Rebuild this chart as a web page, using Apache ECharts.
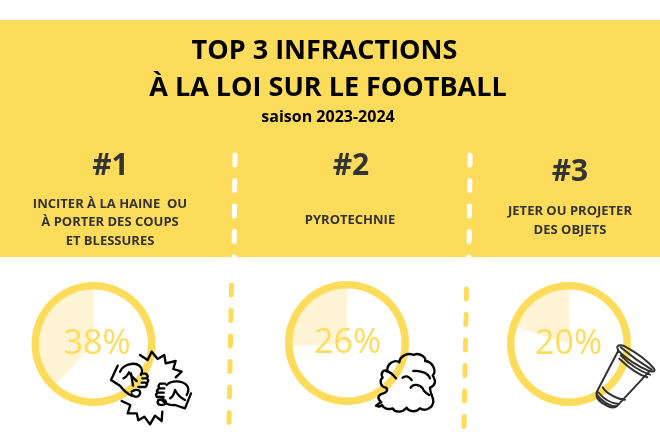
<!DOCTYPE html>
<html>
<head>
<meta charset="utf-8">
<title>Top 3 infractions</title>
<script src="https://cdn.jsdelivr.net/npm/echarts@6/dist/echarts.min.js"></script>
<style>
html, body { margin: 0; padding: 0; background: #fff; }
#container { width: 660px; height: 440px; }
</style>
</head>
<body>
<div id="container"></div>
<script>
var ranks  = ['#1', '#2', '#3'];
var shares = [38, 26, 20];
var titleLines = ['TOP 3 INFRACTIONS', 'À LA LOI SUR LE FOOTBALL'];
var subtitle   = 'saison 2023-2024';
var infractions = [
    ['INCITER À LA HAINE  OU', 'À PORTER DES COUPS', 'ET BLESSURES'],
    ['PYROTECHNIE'],
    ['JETER OU PROJETER', 'DES OBJETS']
];

var yellow = '#FEDC5B';
var pale   = '#FFF5D5';
var font   = '"Open Sans", sans-serif';

var chart = echarts.init(document.getElementById('container'));

function text(x, y, str, size, weight, color, z) {
    return {
        type: 'text', x: x, y: y, z: z || 5, silent: true,
        style: {
            text: str, fill: color, font: weight + ' ' + size + 'px ' + font,
            align: 'center', verticalAlign: 'middle'
        }
    };
}

function dashes(x1, y1, x2, y2, color) {
    return {
        type: 'line', z: 3, silent: true,
        shape: {x1: x1, y1: y1, x2: x2, y2: y2},
        style: {stroke: color, lineWidth: 5, lineCap: 'round', lineDash: [10, 15.5]}
    };
}

// icones (dessinees dans un repere zoome x3)
function icon(name, path, x, y, color, width) {
    echarts.graphic.registerShape(name, echarts.graphic.extendPath(path, {}));
    return {
        type: name, z: 10, silent: true, x: x, y: y, scaleX: 1 / 3, scaleY: 1 / 3,
        style: {fill: null, stroke: color, lineWidth: width, lineJoin: 'round', lineCap: 'round'}
    };
}

var burst = 'M105 30 L128 45 L140 20 L158 42 L178 30 L182 55 L212 48 L205 72 L230 80 L212 97 ' +
    'M50 168 L76 180 L68 205 L95 205 L100 226 L118 215 L135 238 L150 212 L170 228 L172 200';
var fistLeft = 'M38 62 L18 105 L45 122 C55 135 65 145 80 152 ' +
    'M45 80 C55 58 88 50 103 62 C112 70 113 82 108 90 ' +
    'M55 100 C65 98 68 88 72 82 C78 92 85 100 95 108 M78 85 L84 122 ' +
    'M108 86 L123 86 Q131 92 126 100 L112 100 M126 100 Q133 106 127 113 L110 113 ' +
    'M124 113 Q129 120 121 126 L100 126 ' +
    'M80 140 Q90 132 102 136 Q110 142 100 154 Q85 158 80 148';
var fistRight = 'M258 145 L240 190 L210 180 C195 182 180 175 170 165 ' +
    'M185 120 C200 105 235 105 248 125 C252 135 248 145 245 150 ' +
    'M195 160 C205 155 208 145 210 135 C218 150 225 158 240 165 ' +
    'M180 116 L165 116 Q157 122 163 130 L178 130 M163 130 Q153 136 157 143 L176 143 ' +
    'M157 143 Q150 149 156 156 L176 156 ' +
    'M160 165 Q155 175 163 179 Q177 182 183 175 Q183 165 175 163 Z';
var cloud = 'M18 182 C25 178 28 172 34 172 C22 162 22 150 38 146 C50 142 55 135 48 128 ' +
    'C30 125 28 105 38 98 C30 85 40 72 52 78 C50 55 75 42 88 52 C90 32 115 22 130 30 ' +
    'C150 20 170 40 165 48 C190 50 200 80 188 92 C200 110 195 122 180 128 ' +
    'C180 145 190 155 190 170 C188 190 165 200 150 190 C135 205 115 198 110 188 ' +
    'C98 202 75 205 68 190 C55 195 40 190 36 180 C30 185 22 185 18 182 ' +
    'M48 78 C60 80 70 90 78 100 M130 78 C150 75 175 85 180 100 ' +
    'M98 98 C108 90 118 95 125 105 M122 128 C130 115 150 118 158 130 C160 140 170 145 178 150';
var cup = 'M82 30 C80 20 95 18 110 28 C140 45 175 70 192 92 C198 102 188 102 175 98 ' +
    'C145 85 105 60 85 38 Z M84 40 L22 158 C15 175 25 190 45 200 C60 210 72 210 80 205 L178 100 ' +
    'M92 28 C120 52 160 80 185 95 M92 52 C115 75 150 100 180 110 M88 62 C112 85 145 110 172 118 ' +
    'M38 148 C50 170 90 185 105 185 M20 170 C35 190 60 205 80 205 M24 162 C40 182 62 196 86 198';

var centers  = [[93.5, 344], [347, 343], [569, 344]];
var shareX   = [97, 347.5, 568.5];
var rankPos  = [[110.5, 166], [351, 166], [570, 172]];
var infraPos = [[110, 204], [350, 220.5], [570, 211.5]];
var lineGap  = 18.5;

var series = [];
var graphic = [
    {type: 'rect', z: 0, silent: true, shape: {x: 0, y: 20, width: 660, height: 237}, style: {fill: yellow}},
    text(324.5, 51, titleLines[0], 27, 700, '#000'),
    text(328, 88, titleLines[1], 27, 700, '#000'),
    text(328, 117, subtitle, 16, 700, '#000'),
    dashes(235, 155, 234, 262, '#fff'),
    dashes(470, 155, 469, 262, '#fff'),
    dashes(231.5, 285, 229, 424, yellow),
    dashes(466.5, 289, 464, 427, yellow),
    icon('burst', burst, 105, 345, '#000', 7),
    icon('fistLeft', fistLeft, 105, 345, '#000', 7),
    icon('fistRight', fistRight, 105, 345, '#000', 7),
    icon('cloud', cloud, 370, 345, '#000', 7),
    icon('cup', cup, 590, 338, '#333', 6)
];

for (var i in shares) {
    series.push({
        type: 'pie', silent: true, z: 2, center: centers[i], radius: [0, 56],
        startAngle: 90, clockwise: false, label: {show: false}, labelLine: {show: false},
        data: [
            {value: shares[i], itemStyle: {color: pale}},
            {value: 100 - shares[i], itemStyle: {color: 'rgba(255,255,255,0)'}}
        ]
    });
    series.push({
        type: 'pie', silent: true, z: 3, center: centers[i], radius: [54.5, 62],
        label: {show: false}, labelLine: {show: false},
        data: [{value: 100, itemStyle: {color: yellow}}]
    });
    graphic.push(text(rankPos[i][0], rankPos[i][1], ranks[i], 30, 700, '#333'));
    graphic.push(text(shareX[i], centers[i][1], shares[i] + '%', 34, 400, yellow));
    for (var j in infractions[i]) {
        graphic.push(text(infraPos[i][0], infraPos[i][1] + j * lineGap, infractions[i][j], 13, 700, '#333'));
    }
}

var option = {
    backgroundColor: '#fff',
    animation: false,
    tooltip: {show: false},
    series: series,
    graphic: graphic
};

chart.setOption(option, true);
</script>
</body>
</html>
